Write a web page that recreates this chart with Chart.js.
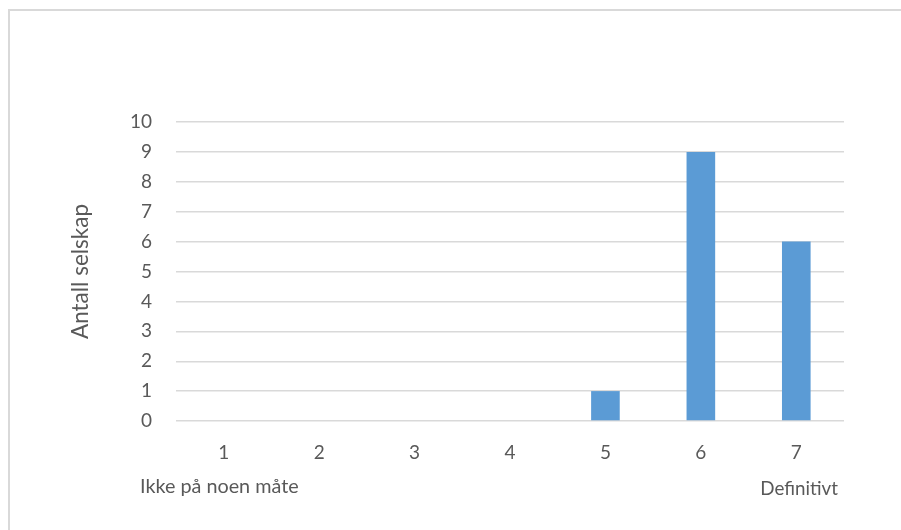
<!DOCTYPE html>
<html>
<head>
<meta charset="utf-8">
<script src="https://cdn.jsdelivr.net/npm/chart.js@4/dist/chart.umd.min.js"></script>
<style>
  html, body { margin: 0; padding: 0; background: #fff; overflow: hidden; }
  #wrap { position: relative; width: 901px; height: 530px; overflow: hidden; }
  #frame {
    position: absolute; left: 8px; top: 9px; width: 960px; height: 600px;
    border-top: 2px solid #d9d9d9; border-left: 2px solid #d9d9d9;
  }
  #chart { position: absolute; left: 0; top: 0; }
</style>
</head>
<body>
<div id="wrap">
  <div id="frame"></div>
  <canvas id="chart" width="901" height="530"></canvas>
</div>
<script>
// ── data ──
const categories = ["1", "2", "3", "4", "5", "6", "7"];
const counts = [0, 0, 0, 0, 1, 9, 6];
const yTitle = "Antall selskap";
const endLabels = ["Ikke på noen måte", "Definitivt"];

const TEXT = "#595959";
const FONT = "Lato, 'Open Sans', sans-serif";

// scale end labels under the x axis
const endLabelPlugin = {
  id: "endLabels",
  afterDraw(chart) {
    const ctx = chart.ctx;
    ctx.save();
    ctx.fillStyle = TEXT;
    ctx.textBaseline = "middle";
    ctx.font = "19.8px " + FONT;
    ctx.textAlign = "left";
    ctx.fillText(endLabels[0], 140, 487);
    ctx.font = "18.8px " + FONT;
    ctx.textAlign = "right";
    ctx.fillText(endLabels[1], 838, 489);
    ctx.restore();
  },
};

new Chart(document.getElementById("chart"), {
  type: "bar",
  data: {
    labels: categories,
    datasets: [
      {
        data: counts,
        backgroundColor: "#5b9bd5",
        borderWidth: 0,
        barPercentage: 0.3,
        categoryPercentage: 1,
      },
    ],
  },
  options: {
    responsive: false,
    animation: false,
    layout: { padding: { left: 0, top: 122, right: 57, bottom: 0 } },
    plugins: { legend: { display: false }, tooltip: { enabled: false } },
    scales: {
      x: {
        grid: { display: false },
        border: { display: false },
        ticks: { color: TEXT, font: { family: FONT, size: 19 }, padding: 12 },
        afterFit: (s) => { s.height = 109; },
      },
      y: {
        min: 0,
        max: 10,
        ticks: { stepSize: 1, color: TEXT, font: { family: FONT, size: 19 }, padding: 24 },
        grid: { color: "#d9d9d9", lineWidth: 1.4, drawTicks: false },
        border: { display: false },
        title: {
          display: true,
          text: yTitle,
          color: TEXT,
          font: { family: FONT, size: 22.5 },
          padding: { top: 67, bottom: 0 },
        },
        afterFit: (s) => { s.width = 176; },
      },
    },
  },
  plugins: [endLabelPlugin],
});
</script>
</body>
</html>
